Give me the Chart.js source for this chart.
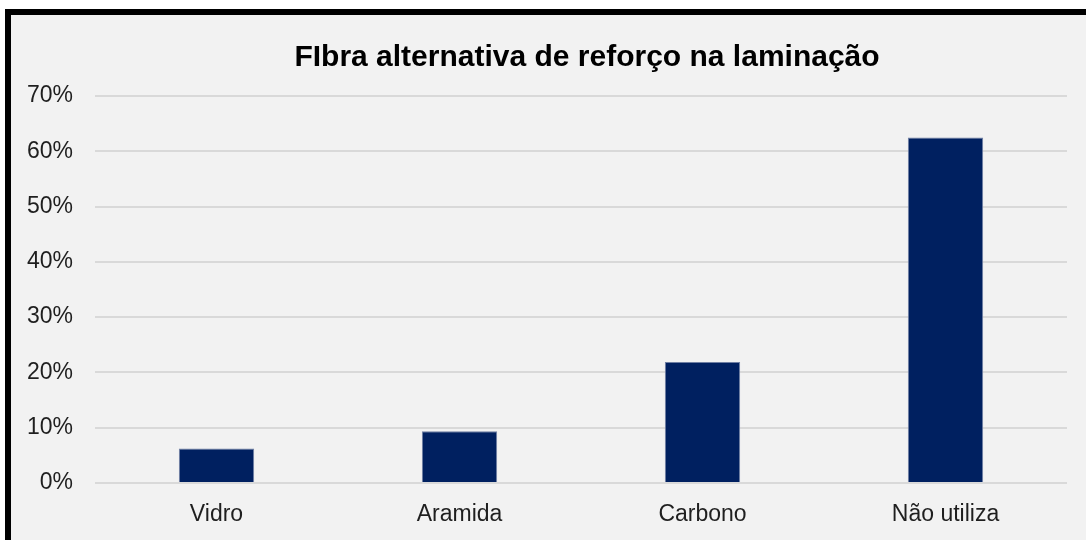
<!DOCTYPE html>
<html>
<head>
<meta charset="utf-8">
<script src="https://cdn.jsdelivr.net/npm/chart.js@4.4.1/dist/chart.umd.min.js"></script>
<style>
  html, body { margin: 0; padding: 0; background: #ffffff; overflow: hidden; }
  #frame {
    position: absolute; left: 5px; top: 9px; width: 1200px; height: 700px;
    border-left: 6px solid #000; border-top: 6px solid #000;
    background: #f2f2f2;
  }
  #wrap { position: absolute; left: 0; top: 0; width: 1086px; height: 540px; }
</style>
</head>
<body>
<div id="frame"></div>
<div id="wrap"><canvas id="c" width="1086" height="540"></canvas></div>
<script>
const titleText = 'FIbra alternativa de reforço na laminação';
const categories = ['Vidro', 'Aramida', 'Carbono', 'Não utiliza'];
const percentValues = [6.25, 9.375, 21.875, 62.5];
const yTickMax = 70;
const yTickStep = 10;

const tickFont = { family: 'Liberation Sans, Arial, sans-serif', size: 23 };

const shiftTitle = {
  id: 'shiftTitle',
  afterLayout(chart) {
    const t = chart.titleBlock;
    if (t) { t.left += 6; t.right += 6; }
  }
};

new Chart(document.getElementById('c'), {
  type: 'bar',
  data: {
    labels: categories,
    datasets: [{
      data: percentValues,
      backgroundColor: '#002060',
      borderColor: '#6f7fa3',
      borderWidth: 1,
      barPercentage: 0.31,
      categoryPercentage: 1.0
    }]
  },
  plugins: [shiftTitle],
  options: {
    responsive: false,
    animation: false,
    layout: { padding: { left: 0, right: 19, top: 0, bottom: 0 } },
    plugins: {
      legend: { display: false },
      tooltip: { enabled: false },
      title: {
        display: true,
        text: titleText,
        fullSize: false,
        color: '#000000',
        font: { family: 'Liberation Sans, Arial, sans-serif', size: 30, weight: 'bold', lineHeight: 1.2 },
        padding: { top: 40, bottom: 20 }
      }
    },
    scales: {
      x: {
        grid: { display: false },
        border: { display: false },
        ticks: { color: '#1f1f1f', font: tickFont, padding: 10 },
        afterFit: (s) => { s.height = 57; }
      },
      y: {
        min: 0,
        max: yTickMax,
        grid: { color: '#d9d9d9', lineWidth: 2, drawTicks: false },
        border: { display: false },
        ticks: {
          stepSize: yTickStep,
          color: '#1f1f1f',
          font: tickFont,
          padding: 22,
          callback: (v) => v + '%'
        },
        afterFit: (s) => { s.width = 95; }
      }
    }
  }
});
</script>
</body>
</html>
